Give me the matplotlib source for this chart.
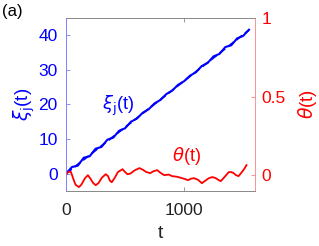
import matplotlib
matplotlib.use('Agg')
import matplotlib.pyplot as plt

plt.rcParams['font.family'] = ['Liberation Sans', 'DejaVu Sans']
plt.rcParams['mathtext.fontset'] = 'dejavusans'

# xi_j(t): solid (simulated) and dashed (linear fit)
t_xi = [0, 50, 100, 150, 200, 250, 300, 350, 400, 450, 500, 550, 600, 650, 700, 750,
        800, 850, 900, 950, 1000, 1050, 1100, 1150, 1200, 1250, 1300, 1350, 1400, 1450, 1500, 1550]
xi = [0, 1.9, 2.3, 4.6, 5.0, 7.2, 7.7, 9.8, 10.4, 12.4, 13.1, 15.0, 15.9, 17.6, 18.6, 20.3,
      21.3, 23.0, 24.0, 25.7, 26.7, 28.3, 29.3, 31.1, 32.0, 33.9, 34.6, 36.6, 37.1, 39.1, 39.8, 41.6]
t_fit = [0, 1550]
xi_fit = [0, 41.5]

# theta(t)
t_th = [0, 8, 25, 42, 60, 80, 109, 130, 160, 185, 205, 230, 252, 275, 305, 336, 355, 372,
        387, 410, 440, 479, 500, 521, 545, 580, 622, 650, 680, 714, 740, 773, 800, 832,
        870, 899, 940, 983, 1010, 1034, 1060, 1084, 1120, 1151, 1180, 1210, 1240, 1269,
        1290, 1311, 1345, 1378, 1400, 1420, 1440, 1462, 1490, 1510, 1529]
theta = [0, 0.013, 0.022, 0.02, -0.02, -0.06, -0.076, -0.06, -0.02, 0.0, -0.02, -0.05,
         -0.064, -0.05, -0.015, 0.006, -0.005, -0.035, -0.045, -0.02, 0.02, 0.038, 0.02,
         0.006, 0.01, 0.03, 0.045, 0.035, 0.02, 0.013, 0.025, 0.032, 0.015, 0.0, 0.004,
         -0.006, -0.01, -0.019, -0.025, -0.032, -0.022, -0.019, -0.03, -0.051, -0.035,
         -0.019, -0.012, -0.019, -0.03, -0.038, -0.01, 0.019, 0.02, 0.013, 0.0, -0.006,
         0.02, 0.04, 0.064]

blue = '#0000ff'
red = '#ff0000'

fig = plt.figure(figsize=(3.19, 2.46), dpi=100)
ax = fig.add_axes([0.207, 0.224, 0.592, 0.703])
ax2 = ax.twinx()

ax.plot(t_xi, xi, color=blue, lw=1.5)
ax.plot(t_fit, xi_fit, color=blue, lw=1.3, ls='--', dashes=(4, 2))
ax2.plot(t_th, theta, color=red, lw=1.3)

ax.set_xlim(0, 1600)
ax.set_ylim(-5, 45)
ax2.set_ylim(-0.1, 1)
ax.set_xticks([0, 1000])
ax.set_yticks([0, 10, 20, 30, 40])
ax2.set_yticks([0, 0.5, 1])
ax2.set_yticklabels(['0', '0.5', '1'])

for a in (ax, ax2):
    a.tick_params(direction='in', length=3, width=0.6, labelsize=12.5)
    for s in a.spines.values():
        s.set_linewidth(0.6)
        s.set_color('#888888')
ax.tick_params(axis='x', colors='#888888', labelcolor='#222222', top=True, pad=9)
ax.tick_params(axis='y', colors='#8080ff', labelcolor=blue, pad=6)
ax2.tick_params(axis='y', colors='#ff8080', labelcolor=red, pad=5)
ax2.spines['left'].set_color('#8080ff')
ax2.spines['right'].set_color('#ff8080')
ax.spines['left'].set_color('#8080ff')
ax.spines['right'].set_visible(False)

ax.set_xlabel('t', fontsize=14, color='#222222', labelpad=5)
ax.set_ylabel(r'$\xi_\mathrm{j}$(t)', fontsize=13.5, color=blue, labelpad=1)
ax2.set_ylabel(r'$\theta$(t)', fontsize=13.5, color=red, rotation=90, labelpad=7)

ax.text(440, 18.5, r'$\xi_\mathrm{j}$(t)', color=blue, fontsize=13, ha='center')
ax2.text(1020, 0.09, r'$\theta$(t)', color=red, fontsize=13, ha='center')
fig.text(0.006, 0.985, '(a)', fontsize=12, va='top', ha='left')

fig.savefig('out.png', dpi=100)
